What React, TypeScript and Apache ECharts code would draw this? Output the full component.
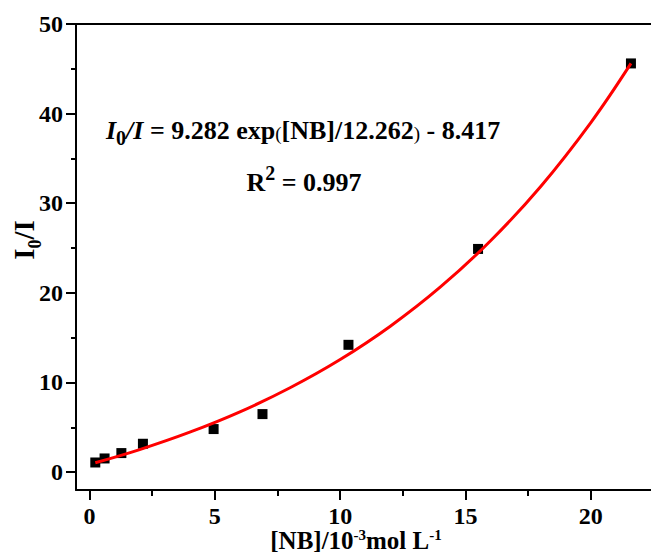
import { useEffect, useRef } from 'react';
import * as echarts from 'echarts';

// Axis ticks
const xTickValues = [0, 5, 10, 15, 20];
const xMinorTicks = [2.5, 7.5, 12.5, 17.5];
const yTickValues = [0, 10, 20, 30, 40, 50];
const yMinorTicks = [5, 15, 25, 35, 45];

// Measured points: [NB] (10^-3 mol/L) vs I0/I
const nbConc = [0.23, 0.6, 1.27, 2.13, 4.95, 6.9, 10.33, 15.5, 21.6];
const ratio = [1.07, 1.52, 2.12, 3.16, 4.8, 6.47, 14.2, 24.9, 45.6];

// Fitted curve
const fitX = [0.23, 2, 4, 6, 8, 10, 12, 14, 16, 18, 20, 21.6];
const fitY = [1.04, 2.51, 4.45, 6.72, 9.41, 12.56, 16.28, 20.66, 25.81, 31.87, 39.0, 45.6];

const F = '"Liberation Serif", "Times New Roman", serif';

export default function App() {
  const ref = useRef<HTMLDivElement>(null);
  useEffect(() => {
    if (!ref.current) return;
    const chart = echarts.init(ref.current, null, { renderer: 'svg' });
    const axisLine = { show: true, onZero: false, lineStyle: { color: '#000', width: 2 } };
    const tickStyle = { color: '#000', width: 2 };
    const xRange = { min: -0.54, max: 22.4 };
    const yRange = { min: -2, max: 50 };
    const labelStyle = { fontSize: 24, fontWeight: 'bold', fontFamily: F, color: '#000' };
    const main = { fontFamily: F, fontWeight: 'bold', fontSize: 26, color: '#000', verticalAlign: 'bottom' };
    chart.setOption({
      animation: false,
      backgroundColor: '#fff',
      grid: { left: 76, right: 0, top: 24, bottom: 63 },
      xAxis: [
        {
          type: 'value', position: 'bottom', ...xRange,
          axisLine,
          axisTick: { show: true, customValues: xTickValues, length: 10, lineStyle: tickStyle },
          axisLabel: { show: true, customValues: xTickValues, margin: 14, ...labelStyle },
          splitLine: { show: false },
        },
        {
          type: 'value', position: 'bottom', ...xRange,
          axisLine: { show: false, onZero: false },
          axisTick: { show: true, customValues: xMinorTicks, length: 6, lineStyle: tickStyle },
          axisLabel: { show: false },
          splitLine: { show: false },
        },
        {
          type: 'value', position: 'top', ...xRange,
          axisLine,
          axisTick: { show: false },
          axisLabel: { show: false },
          splitLine: { show: false },
        },
      ],
      yAxis: [
        {
          type: 'value', position: 'left', ...yRange,
          axisLine,
          axisTick: { show: true, customValues: yTickValues, length: 10, lineStyle: tickStyle },
          axisLabel: { show: true, customValues: yTickValues, margin: 13, ...labelStyle },
          splitLine: { show: false },
        },
        {
          type: 'value', position: 'left', ...yRange,
          axisLine: { show: false, onZero: false },
          axisTick: { show: true, customValues: yMinorTicks, length: 5, lineStyle: tickStyle },
          axisLabel: { show: false },
          splitLine: { show: false },
        },
      ],
      series: [
        {
          type: 'scatter',
          xAxisIndex: 0, yAxisIndex: 0,
          data: nbConc.map((x, i) => [x, ratio[i]]),
          symbol: 'rect',
          symbolSize: 10,
          itemStyle: { color: '#000', opacity: 1 },
          z: 2,
        },
        {
          type: 'line',
          xAxisIndex: 0, yAxisIndex: 0,
          data: fitX.map((x, i) => [x, fitY[i]]),
          smooth: 0.4,
          showSymbol: false,
          lineStyle: { color: '#ff0000', width: 3 },
          z: 3,
        },
      ],
      graphic: [
        {
          type: 'text',
          x: 106, y: 130,
          style: {
            text: '{i|I}{sub|0}{i|/I}{n| = 9.282 exp}{p|(}{n|[NB]/12.262}{p|)}{n| - 8.417}',
            align: 'left', verticalAlign: 'middle',
            textAlign: 'left', textVerticalAlign: 'middle',
            rich: {
              i: { ...main, fontStyle: 'italic' },
              n: { ...main },
              sub: { ...main, fontSize: 20, padding: [0, 0, -5, 0] },
              p: { ...main, fontSize: 19, fontWeight: 'normal' },
            },
          },
        },
        {
          type: 'text',
          x: 304, y: 182,
          style: {
            text: '{n|R}{sup|2}{n| = 0.997}',
            align: 'center', verticalAlign: 'middle',
            textAlign: 'center', textVerticalAlign: 'middle',
            rich: {
              n: { ...main },
              sup: { ...main, fontSize: 20, verticalAlign: 'top', padding: [-6, 0, 0, 0] },
            },
          },
        },
        {
          type: 'text',
          x: 356, y: 540,
          style: {
            text: '{n|[NB]/10}{sup|-3}{n|mol L}{sup|-1}',
            align: 'center', verticalAlign: 'middle',
            textAlign: 'center', textVerticalAlign: 'middle',
            rich: {
              n: { ...main, fontSize: 25 },
              sup: { ...main, fontSize: 15, verticalAlign: 'top' },
            },
          },
        },
        {
          type: 'text',
          x: 24, y: 240,
          rotation: Math.PI / 2,
          style: {
            text: '{n|I}{sub|0}{n|/I}',
            align: 'center', verticalAlign: 'middle',
            textAlign: 'center', textVerticalAlign: 'middle',
            rich: {
              n: { ...main, fontSize: 29 },
              sub: { ...main, fontSize: 18, padding: [0, 0, -5, 0] },
            },
          },
        },
      ],
    });
    return () => chart.dispose();
  }, []);
  return (
    <div
      ref={ref}
      style={{ position: 'fixed', left: 0, top: 0, width: 651, height: 553, background: '#fff' }}
    />
  );
}
